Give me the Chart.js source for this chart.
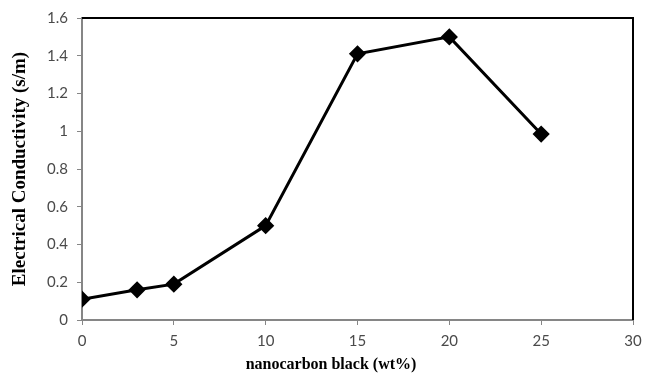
<!DOCTYPE html>
<html>
<head>
<meta charset="utf-8">
<script src="https://cdn.jsdelivr.net/npm/chart.js@4"></script>
<style>
  html, body { margin: 0; padding: 0; background: #fff; }
  #wrap { width: 654px; height: 376px; }
</style>
</head>
<body>
<div id="wrap"><canvas id="chart"></canvas></div>
<script>
const loading = [0, 3, 5, 10, 15, 20, 25];
const conductivity = [0.11, 0.16, 0.19, 0.5, 1.41, 1.5, 0.985];
const xTicks = [0, 5, 10, 15, 20, 25, 30];
const yTicks = [0, 0.2, 0.4, 0.6, 0.8, 1, 1.2, 1.4, 1.6];
const xTitle = 'nanocarbon black (wt%)';
const yTitle = 'Electrical Conductivity (s/m)';

// black top/right edges of the plot area, and the x title (sits a bit left of plot centre)
const frame = {
    id: 'frame',
    afterDraw(chart) {
        const { ctx, chartArea: a } = chart;
        ctx.save();
        ctx.strokeStyle = '#000';
        ctx.lineWidth = 2;
        ctx.beginPath();
        ctx.moveTo(a.left, a.top);
        ctx.lineTo(a.right, a.top);
        ctx.lineTo(a.right, a.bottom);
        ctx.stroke();

        ctx.fillStyle = '#000';
        ctx.font = 'bold 16px "Liberation Serif"';
        ctx.textAlign = 'center';
        ctx.textBaseline = 'middle';
        ctx.fillText(xTitle, chart.width / 2 + 4, a.bottom + 45);
        ctx.restore();
    }
};

const tickFont = { family: 'Lato', size: 15 };

new Chart(document.getElementById('chart').getContext('2d'), {
    type: 'scatter',
    data: {
        datasets: [{
            data: loading.map((x, i) => ({ x: x, y: conductivity[i] })),
            showLine: true,
            borderColor: '#000',
            backgroundColor: '#000',
            borderWidth: 3,
            pointStyle: 'rectRot',
            pointRadius: 6.5,
            pointHoverRadius: 6.5,
            tension: 0
        }]
    },
    options: {
        responsive: true,
        maintainAspectRatio: false,
        animation: false,
        layout: { padding: { top: 16, right: 21, left: 0, bottom: 0 } },
        plugins: {
            legend: { display: false },
            tooltip: { enabled: false }
        },
        scales: {
            x: {
                type: 'linear',
                min: 0,
                max: 30,
                afterBuildTicks: s => { s.ticks = xTicks.map(v => ({ value: v })); },
                afterFit: s => { s.height = 56; },
                grid: { drawOnChartArea: false, drawTicks: true, tickLength: 5, color: '#868686' },
                border: { color: '#868686', width: 2 },
                ticks: { color: '#4a4a4a', font: tickFont, padding: 7, maxRotation: 0, callback: v => String(v) }
            },
            y: {
                min: 0,
                max: 1.6,
                afterBuildTicks: s => { s.ticks = yTicks.map(v => ({ value: v })); },
                afterFit: s => { s.width = 82; },
                grid: { drawOnChartArea: false, drawTicks: true, tickLength: 5, color: '#868686' },
                border: { color: '#868686', width: 2 },
                ticks: { color: '#4a4a4a', font: tickFont, padding: 9, callback: v => String(v) },
                title: {
                    display: true,
                    text: yTitle,
                    color: '#000',
                    font: { family: 'Liberation Serif', size: 19, weight: 'bold' },
                    padding: { top: 9, bottom: 0 }
                }
            }
        }
    },
    plugins: [frame]
});
</script>
</body>
</html>
